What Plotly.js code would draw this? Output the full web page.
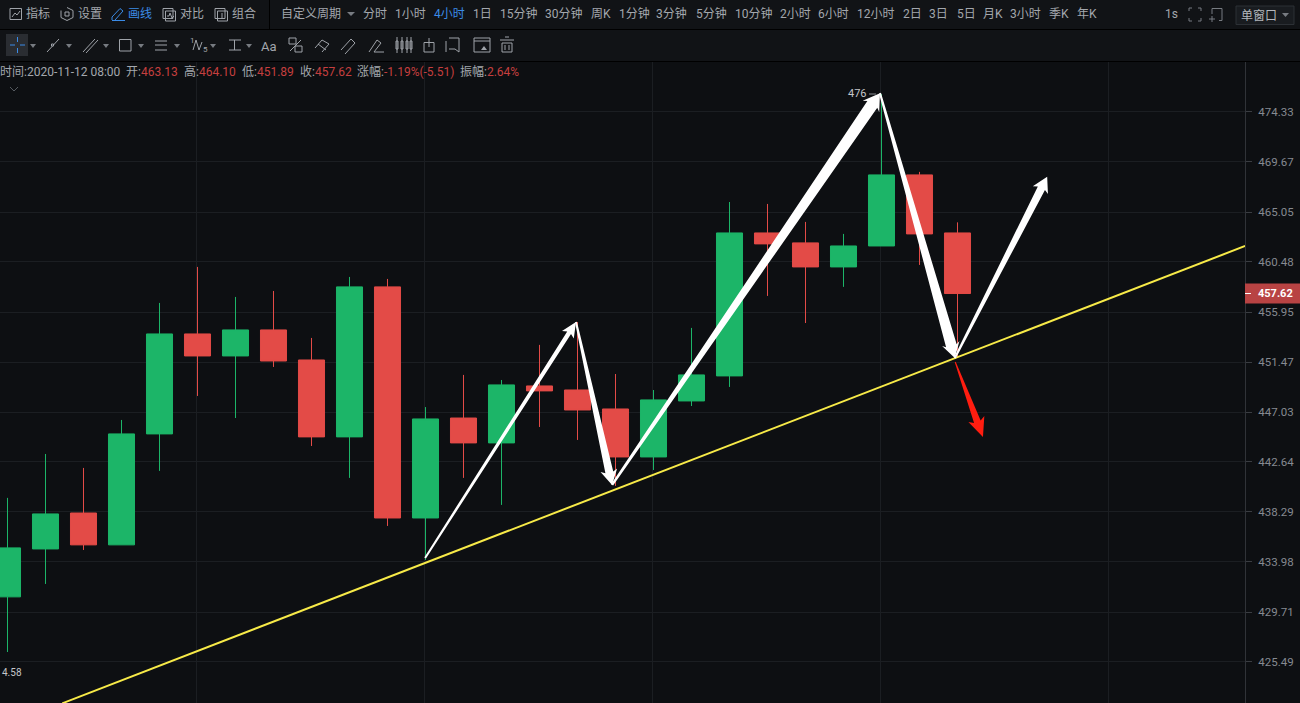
<!DOCTYPE html>
<html><head><meta charset="utf-8">
<script src="https://cdn.plot.ly/plotly-3.0.1.min.js"></script>
<style>html,body{margin:0;padding:0;background:#0d0f12;overflow:hidden}#c{width:1300px;height:703px}</style>
</head><body><div id="c"></div>
<script>
// Candle values
const bars   = [0,1,2,3,4,5,6,7,8,9,10,11,12,13,14,15,16,17,18,19,20,21,22,23,24,25];
const opens  = [431.00,435.10,438.20,435.45,445.10,453.98,452.01,454.34,451.65,444.84,458.22,437.77,446.50,444.31,449.34,448.98,447.30,443.08,448.01,450.23,463.13,462.22,460.03,461.94,468.47,463.13];
const highs  = [439.51,443.34,442.12,446.33,456.77,460.03,457.31,457.85,453.62,459.12,458.94,447.47,450.32,449.87,453.00,455.05,450.40,448.98,454.52,465.97,465.79,464.14,463.04,476.00,468.75,464.10];
const lows   = [426.33,432.10,435.01,435.45,441.86,448.45,446.50,451.03,444.04,441.25,437.08,434.15,441.25,438.90,445.71,444.57,440.55,441.94,447.56,449.25,457.40,454.96,458.22,461.94,460.21,451.89];
const closes = [435.19,438.12,435.45,445.10,453.98,452.01,454.34,451.56,444.84,458.22,437.77,446.42,444.31,449.43,448.90,447.21,443.08,448.10,450.32,463.13,462.13,460.03,461.94,468.47,463.04,457.62];
const priceTicks = [474.33,469.67,465.05,460.48,455.95,451.47,447.03,442.64,438.29,433.98,429.71,425.49];
const gridBars = [4.97,10.97,16.97,22.97,28.97];
const lastPrice = 457.62;
// Drawn trend line and arrows, in bar index and price
const trendBars = [1.44,32.57];
const trendPrices = [422.03,461.94];
const waveBars   = [10.99,14.96,15.91,22.96,24.93,27.36];
const wavePrices = [434.32,455.05,440.64,476.1,451.83,468.29];
const redBars   = [24.94,25.67];
const redPrices = [451.47,444.84];
const periods = ['分时','1小时','4小时','1日','15分钟','30分钟','周K','1分钟','3分钟','5分钟','10分钟','2小时','6小时','12小时','2日','3日','5日','月K','3小时','季K','年K'];

const W=1245,H=641,TOP=62;
const xRange=[-7.5/38,(W-7.5)/38], yRange=[2.62537,2.68037];
const kx=W/(xRange[1]-xRange[0]), ky=H/(yRange[1]-yRange[0]);
const px=x=>x/W, py=y=>1-(y-TOP)/H;
const BG='#0d0f12',BAR='#111316',GRID='#1b1e22',TXT='#a3a7ad',BLUE='#3b8be6',ICON='#9fa3a9',RED='#c53f3f';
const FONT='Roboto, "Noto Sans CJK SC", sans-serif';

function wedge(x0,y0,x1,y1,tail,shaft,head,len,color){
  const a=[(x0-xRange[0])*kx,(Math.log10(y0)-yRange[0])*ky], b=[(x1-xRange[0])*kx,(Math.log10(y1)-yRange[0])*ky];
  const d=[b[0]-a[0],b[1]-a[1]], L=Math.hypot(d[0],d[1]), u=[d[0]/L,d[1]/L], n=[-u[1],u[0]];
  const P=(t,s)=>[a[0]+u[0]*t+n[0]*s,a[1]+u[1]*t+n[1]*s];
  const pts=[P(0,tail/2),P(L-len*0.85,shaft/2),P(L-len,head/2),P(L,0),P(L-len,-head/2),P(L-len*0.85,-shaft/2),P(0,-tail/2),P(0,tail/2)];
  return {type:'scatter',mode:'lines',fill:'toself',fillcolor:color,line:{width:0,color:color},hoverinfo:'skip',showlegend:false,
    x:pts.map(p=>p[0]/kx+xRange[0]),y:pts.map(p=>Math.pow(10,p[1]/ky+yRange[0]))};
}
const traces=[
 {type:'candlestick',x:bars,open:opens,high:highs,low:lows,close:closes,whiskerwidth:0,showlegend:false,hoverinfo:'skip',
  increasing:{line:{color:'#1cb568',width:1},fillcolor:'#1cb568'},decreasing:{line:{color:'#e34b47',width:1},fillcolor:'#e34b47'}},
 {type:'scatter',mode:'lines',x:trendBars,y:trendPrices,line:{color:'#f7ea48',width:2},hoverinfo:'skip',showlegend:false},
 wedge(waveBars[0],wavePrices[0],waveBars[1],wavePrices[1],2,4.5,14,15,'#fff'),
 wedge(waveBars[1],wavePrices[1],waveBars[2],wavePrices[2],2,8,17,15,'#fff'),
 wedge(waveBars[2],wavePrices[2],waveBars[3],wavePrices[3],2.5,12,20,16,'#fff'),
 wedge(waveBars[3],wavePrices[3],waveBars[4],wavePrices[4],2,11,18,15,'#fff'),
 wedge(waveBars[4],wavePrices[4],waveBars[5],wavePrices[5],2,8,17,15,'#fff'),
 wedge(redBars[0],redPrices[0],redBars[1],redPrices[1],1,7,17,19,'#ff1d10')
];
const shapes=[],ann=[];
function rect(x0,y0,x1,y1,o={}){shapes.push({type:'rect',xref:'paper',yref:'paper',x0:px(x0),x1:px(x1),y0:py(y0),y1:py(y1),layer:'above',fillcolor:o.fill||'rgba(0,0,0,0)',line:{color:o.line||ICON,width:o.w===undefined?1:o.w}});}
function line(x0,y0,x1,y1,c=ICON,w=1){shapes.push({type:'line',xref:'paper',yref:'paper',x0:px(x0),x1:px(x1),y0:py(y0),y1:py(y1),layer:'above',line:{color:c,width:w}});}
function poly(p,o={}){shapes.push({type:'path',xref:'paper',yref:'paper',layer:'above',path:p.map((q,i)=>(i?'L':'M')+px(q[0])+','+py(q[1])).join(' ')+(o.open?'':' Z'),fillcolor:o.open?'rgba(0,0,0,0)':(o.fill||ICON),line:{color:o.line||o.fill||ICON,width:o.open?1:0}});}
function text(s,x,y,o={}){ann.push({text:s,xref:'paper',yref:'paper',x:px(x-1),y:py(y),xanchor:o.anchor||'left',yanchor:'middle',showarrow:false,borderpad:0,font:{family:FONT,size:o.size||12,color:o.color||TXT,weight:o.weight||400}});}
// Toolbar backgrounds and separators
rect(0,0,1300,61,{fill:BAR,w:0});
line(0,29.5,1300,29.5,'#000');line(0,61.5,1300,61.5,'#000');line(269.5,0,269.5,29,'#000');
// First row
[['指标',26],['设置',78],['画线',128,BLUE],['对比',180],['组合',232],['自定义周期',281]].forEach(a=>text(a[0],a[1],14,{color:a[2]||TXT}));
poly([[347,12],[355,12],[351,16]],{fill:'#777b81'});
const periodX=[363,395,434,473,500,545,591,619,656,696,735,780,818,857,903,929,957,983,1010,1049,1077];
periods.forEach((s,i)=>text(s,periodX[i],14,{color:s==='4小时'?BLUE:TXT}));
text('1s',1165,14);
rect(10,8.5,21.5,19.5);poly([[12,17],[15,13],[17,15],[20,11]],{open:true});
poly([[67,7.5],[73,10.5],[73,17.5],[67,20.5],[61,17.5],[61,10.5]],{open:true});rect(65,12,69,16);
poly([[112,20],[112,17],[120,8.5],[123,11],[115,20]],{open:true,line:BLUE});line(112,20.5,125,20.5,BLUE);
rect(163,8.5,173,18.5);rect(165.5,11,175.5,21);poly([[167,16],[169,16],[170,13],[172,18],[174,16]],{open:true});
rect(215,8.5,225,18.5);rect(217.5,11,227.5,21);line(222,13,222,19);
line(1189,8,1192,8,'#777b81');line(1189,8,1189,11,'#777b81');line(1198,8,1201,8,'#777b81');line(1201,8,1201,11,'#777b81');line(1189,21,1192,21,'#777b81');line(1189,18,1189,21,'#777b81');line(1198,21,1201,21,'#777b81');line(1201,18,1201,21,'#777b81');
line(1212,8.5,1222,8.5,'#777b81');line(1222,8.5,1222,20.5,'#777b81');line(1219,20.5,1222,20.5,'#777b81');line(1212,8.5,1212,14,'#777b81');line(1209,19,1215,19,'#777b81');line(1212,16,1212,22,'#777b81');
rect(1236,6,1294,24.5,{fill:'#191c20',line:'#2c3035'});text('单窗口',1241,15.5,{color:'#b4b8bd'});poly([[1282,13],[1289,13],[1285.5,17]],{fill:'#777b81'});
// Second row
rect(6,34,28,56,{fill:'#2a2d32',w:0});line(10,45,15,45,BLUE);line(20,45,25,45,BLUE);line(17.5,37,17.5,42,BLUE);line(17.5,48,17.5,53,BLUE);
[33,69,106,141,177,213,249].forEach(x=>poly([[x-3,44],[x+3,44],[x,48]],{fill:'#777b81'}));
line(47,52,59,39);rect(51.5,44,53.5,46,{fill:BG});
line(83,52,95,39);line(86,53,98,40);
rect(119.5,39.5,131,51);
line(155,41,167,41);line(155,45,167,45);line(155,50,167,50);
poly([[193,50],[196,40],[199,50],[202,42]],{open:true});text('1',190,40,{size:8});text('5',203,49,{size:8});
line(229,40,241,40);line(234.5,40,234.5,50);line(229,50,241,50);
text('Aa',261,46,{size:13});
line(290,51,301,40);rect(289,38,296,44);rect(295,46,302,52);
poly([[315,48],[322,40],[329,44],[322,52]],{open:true});line(318,44,326,50);
poly([[341,50],[351,39],[355,43],[345,54]],{open:true});
poly([[369,52],[377,40],[381,43],[374,52],[384,52]],{open:true});
[397,402,407,411].forEach(x=>{rect(x-1,41,x+1,49);line(x,37,x,53);});
rect(424,42.5,434,52);line(429,38,429,47);
poly([[449,38],[459,38],[459,52],[455,49],[449,49]],{open:true});line(446,41,446,52);
rect(474,38,490,52);line(474,41,490,41);poly([[481,50],[484,46],[487,50]],{fill:ICON});
line(500,40,514,40);rect(502,43,512,52);line(505,37,509,37);line(505,45,505,50);line(509,45,509,50);
// OHLC readout
const R=s=>'<span style="color:'+RED+'">'+s+'</span>';
text('时间:2020-11-12 08:00',0,72);text('开:'+R('463.13'),126,72);text('高:'+R('464.10'),184,72);text('低:'+R('451.89'),242,72);
text('收:'+R('457.62'),300,72);text('涨幅:'+R('-1.19%(-5.51)'),357,72);text('振幅:'+R('2.64%'),460,72);
poly([[10,87],[14,91],[18,87]],{open:true,line:'#555a60'});
// Marks on the chart
text('476',869,93,{anchor:'right',size:11,color:'#c4c6c9'});line(869,94,876,94,'#8a8d91');
text('4.58',1.5,672,{size:10,color:'#c4c6c9'});
// Last price tag
const lastFrac=(Math.log10(lastPrice)-yRange[0])/(yRange[1]-yRange[0]);
const tagC=TOP+H*(1-lastFrac);
rect(1245,tagC-10,1300,tagC+10,{fill:'#b84343',w:0});line(1245,tagC,1251,tagC,'#fff');
text('457.62',1258,tagC,{size:11,color:'#fff',weight:700});

Plotly.newPlot('c',traces,{
 width:1300,height:703,margin:{l:0,r:55,t:62,b:0,pad:0},paper_bgcolor:BG,plot_bgcolor:BG,showlegend:false,dragmode:false,
 boxgap:0.02,boxgroupgap:0.3,
 xaxis:{range:xRange,rangeslider:{visible:false},tickmode:'array',tickvals:gridBars,showticklabels:false,ticks:'',showgrid:true,gridcolor:GRID,gridwidth:1,zeroline:false,showline:false,fixedrange:true},
 yaxis:{type:'log',range:yRange,side:'right',tickmode:'array',tickvals:priceTicks,ticktext:priceTicks.map(v=>v.toFixed(2)),ticks:'outside',ticklen:6,tickcolor:'#3a3d42',tickwidth:1,
  tickfont:{family:'Roboto, sans-serif',size:11.5,color:'#868a91'},ticklabelstandoff:4,showgrid:true,gridcolor:GRID,gridwidth:1,zeroline:false,showline:true,linecolor:'#303338',linewidth:1,fixedrange:true},
 shapes:shapes,annotations:ann,font:{family:FONT}
},{staticPlot:true,displayModeBar:false});
</script></body></html>
